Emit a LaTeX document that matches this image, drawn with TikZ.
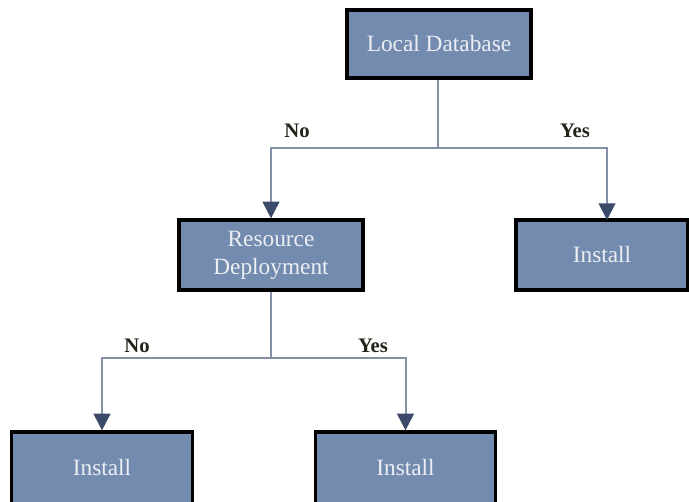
\documentclass[tikz,border=0pt]{standalone}
\usepackage{fontspec}
\setmainfont{Liberation Serif}
\usetikzlibrary{arrows.meta}
\definecolor{boxfill}{RGB}{114,139,174}
\definecolor{boxtext}{RGB}{236,238,244}
\definecolor{wire}{RGB}{132,144,166}
\definecolor{tipcol}{RGB}{58,74,104}
\definecolor{labcol}{RGB}{34,36,24}
\tikzset{
  box/.style={draw=black, line width=2.4pt, fill=boxfill, text=boxtext,
    font=\fontsize{17.5}{20}\selectfont, align=center, inner sep=0pt},
  wireline/.style={draw=wire, line width=1.5pt},
  arr/.style={wireline, -{Triangle[length=12.5pt,width=12.5pt,fill=tipcol,color=tipcol]}},
  lab/.style={text=labcol, font=\fontsize{15.5}{18}\selectfont\bfseries, inner sep=0pt}
}
\begin{document}
\begin{tikzpicture}[x=0.75pt,y=-0.75pt]
  \useasboundingbox (0,0) rectangle (689,502);
  \clip (0,0) rectangle (689,502);
  % decision boxes
  \node[box, minimum width=138pt, minimum height=51pt] (db) at (439,44) {Local Database};
  \node[box, minimum width=138pt, minimum height=52.5pt] (res) at (271,255) {Resource\\[1pt]Deployment};
  \node[box, minimum width=129pt, minimum height=52.5pt] (inst1) at (602,255) {Install};
  % bottom row runs off the lower edge
  \node[box, minimum width=135.5pt, minimum height=60pt] (inst2) at (102,472) {\raisebox{7.5pt}{Install}};
  \node[box, minimum width=135.5pt, minimum height=60pt] (inst3) at (405.5,472) {\raisebox{7.5pt}{Install}};
  % junction points of the branches
  \coordinate (j1) at (438,148);
  \coordinate (j2) at (271,358);
  \coordinate (a1) at (607,220);
  % connectors
  \draw[wireline] (db.south -| j1) -- (j1);
  \draw[arr] (j1) -| (res.north);
  \draw[arr] (j1) -| (a1);
  \draw[wireline] (res.south) -- (j2);
  \draw[arr] (j2) -| (inst2.north);
  \draw[arr] (j2) -| (inst3.north);
  % branch labels
  \node[lab] (n1) at (297,131) {No};
  \node[lab] (y1) at (575,131) {Yes};
  \node[lab] (n2) at (137,346) {No};
  \node[lab] (y2) at (373,346) {Yes};
\end{tikzpicture}
\end{document}
